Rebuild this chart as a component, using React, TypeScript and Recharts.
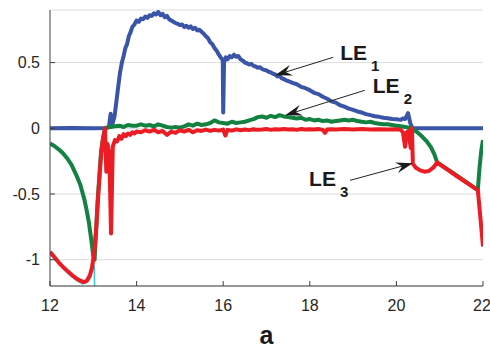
import { LineChart, Line, XAxis, YAxis, CartesianGrid, ReferenceLine } from 'recharts'

const xTicks = [12, 14, 16, 18, 20, 22]
const yTicks = [-1, -0.5, 0, 0.5]

// LE1 (blue)
const le1: [number, number][] = [
  [12, 0], [12.5, 0.002], [13, 0], [13.3, 0.002], [13.36, 0.01], [13.4, 0.11], [13.44, 0.03], [13.49, 0.09],
  [13.54, 0.22], [13.58, 0.33], [13.62, 0.43], [13.66, 0.5], [13.7, 0.55], [13.74, 0.61], [13.78, 0.64], [13.82, 0.7],
  [13.86, 0.73], [13.9, 0.77], [13.95, 0.79], [14.0, 0.82], [14.05, 0.81], [14.1, 0.835], [14.15, 0.83], [14.2, 0.85],
  [14.25, 0.84], [14.3, 0.86], [14.35, 0.855], [14.4, 0.875], [14.45, 0.865], [14.5, 0.885], [14.55, 0.86], [14.6, 0.87],
  [14.65, 0.845], [14.7, 0.855], [14.75, 0.83], [14.8, 0.82], [14.85, 0.81], [14.9, 0.8], [14.95, 0.795], [15.0, 0.785],
  [15.05, 0.79], [15.1, 0.77], [15.15, 0.78], [15.2, 0.765], [15.25, 0.775], [15.3, 0.755], [15.35, 0.765], [15.4, 0.745],
  [15.45, 0.75], [15.5, 0.735], [15.55, 0.72], [15.6, 0.7], [15.65, 0.685], [15.7, 0.655], [15.75, 0.64], [15.8, 0.61],
  [15.85, 0.59], [15.9, 0.56], [15.95, 0.535], [15.99, 0.52], [16.0, 0.12], [16.02, 0.5], [16.06, 0.54], [16.1, 0.525],
  [16.15, 0.55], [16.2, 0.54], [16.25, 0.56], [16.3, 0.545], [16.35, 0.55], [16.4, 0.525], [16.45, 0.515], [16.5, 0.5],
  [16.55, 0.495], [16.6, 0.485], [16.65, 0.49], [16.7, 0.475], [16.75, 0.47], [16.8, 0.46], [16.85, 0.465], [16.9, 0.45],
  [16.95, 0.445], [17.0, 0.44], [17.05, 0.43], [17.1, 0.425], [17.15, 0.415], [17.2, 0.41], [17.25, 0.395], [17.3, 0.4],
  [17.35, 0.38], [17.4, 0.375], [17.45, 0.365], [17.5, 0.36], [17.6, 0.345], [17.7, 0.335], [17.8, 0.315], [17.9, 0.305],
  [18.0, 0.29], [18.1, 0.27], [18.2, 0.26], [18.3, 0.24], [18.4, 0.225], [18.5, 0.205], [18.6, 0.195], [18.7, 0.175],
  [18.8, 0.165], [18.9, 0.15], [19.0, 0.14], [19.1, 0.128], [19.2, 0.12], [19.3, 0.108], [19.4, 0.1], [19.5, 0.092],
  [19.6, 0.087], [19.7, 0.08], [19.8, 0.076], [19.9, 0.07], [20.0, 0.068], [20.1, 0.064], [20.15, 0.075], [20.2, 0.07],
  [20.27, 0.115], [20.32, 0.04], [20.37, 0], [21, 0], [22, 0],
]

// LE2 (green)
const le2: [number, number][] = [
  [12, -0.115], [12.1, -0.135], [12.2, -0.16], [12.3, -0.19], [12.4, -0.23], [12.5, -0.28], [12.6, -0.35], [12.7, -0.43],
  [12.8, -0.55], [12.85, -0.63], [12.9, -0.72], [12.95, -0.84], [13.0, -0.97], [13.03, -1.0], [13.1, -0.55], [13.18, -0.17],
  [13.27, 0], [13.3, 0.005], [13.4, 0.01], [13.5, 0.015], [13.6, 0.02], [13.7, 0.01], [13.8, 0.025], [13.9, 0.02],
  [14.0, 0.02], [14.1, 0.03], [14.2, 0.02], [14.3, 0.025], [14.4, 0.015], [14.5, 0.03], [14.6, 0.02], [14.7, 0.01],
  [14.8, 0.005], [14.9, 0.01], [15.0, 0.005], [15.1, 0.015], [15.2, 0.03], [15.3, 0.02], [15.4, 0.035], [15.5, 0.025],
  [15.6, 0.03], [15.7, 0.04], [15.8, 0.06], [15.9, 0.045], [16.0, 0.04], [16.1, 0.035], [16.2, 0.05], [16.3, 0.04],
  [16.4, 0.045], [16.5, 0.05], [16.6, 0.06], [16.7, 0.07], [16.8, 0.085], [16.9, 0.09], [17.0, 0.08], [17.1, 0.095],
  [17.2, 0.085], [17.3, 0.1], [17.4, 0.09], [17.5, 0.085], [17.6, 0.08], [17.7, 0.075], [17.8, 0.08], [17.9, 0.065],
  [18.0, 0.07], [18.1, 0.06], [18.2, 0.065], [18.3, 0.055], [18.4, 0.06], [18.5, 0.05], [18.6, 0.055], [18.7, 0.06],
  [18.8, 0.065], [18.9, 0.06], [19.0, 0.065], [19.1, 0.055], [19.2, 0.05], [19.3, 0.045], [19.4, 0.05], [19.5, 0.04],
  [19.6, 0.035], [19.7, 0.03], [19.8, 0.03], [19.9, 0.025], [20.0, 0.02], [20.1, 0.015], [20.2, 0.01], [20.3, 0.005],
  [20.4, -0.01], [20.5, -0.035], [20.6, -0.065], [20.7, -0.1], [20.8, -0.145], [20.88, -0.2], [20.94, -0.26], [21.4, -0.36],
  [21.88, -0.47], [21.92, -0.3], [21.96, -0.17], [22, -0.09],
]

// LE3 (red)
const le3: [number, number][] = [
  [12, -0.94], [12.1, -0.98], [12.2, -1.02], [12.3, -1.055], [12.4, -1.085], [12.5, -1.115], [12.6, -1.14], [12.7, -1.16],
  [12.78, -1.17], [12.85, -1.16], [12.92, -1.12], [12.97, -1.06], [13.02, -0.95], [13.07, -0.75], [13.12, -0.48], [13.17, -0.25],
  [13.22, -0.08], [13.27, 0], [13.3, -0.33], [13.33, -0.12], [13.37, -0.2], [13.41, -0.8], [13.45, -0.14], [13.5, -0.09],
  [13.55, -0.1], [13.6, -0.06], [13.65, -0.08], [13.7, -0.045], [13.75, -0.06], [13.8, -0.04], [13.85, -0.05], [13.9, -0.03],
  [13.95, -0.04], [14.0, -0.025], [14.1, -0.03], [14.2, -0.015], [14.3, -0.025], [14.4, -0.012], [14.5, -0.03], [14.6, -0.02],
  [14.7, -0.05], [14.8, -0.025], [14.9, -0.035], [15.0, -0.015], [15.1, -0.025], [15.2, -0.012], [15.3, -0.03], [15.4, -0.015],
  [15.5, -0.02], [15.6, -0.01], [15.7, -0.02], [15.8, -0.012], [15.9, -0.018], [16.0, -0.01], [16.05, -0.055], [16.1, -0.012],
  [16.2, -0.018], [16.3, -0.008], [16.4, -0.015], [16.5, -0.01], [16.6, -0.014], [16.7, -0.008], [16.8, -0.012], [16.9, -0.01],
  [17.0, -0.006], [17.1, -0.012], [17.2, -0.008], [17.3, -0.01], [17.4, -0.006], [17.5, -0.01], [17.6, -0.008], [17.7, -0.012],
  [17.8, -0.006], [17.9, -0.01], [18.0, -0.008], [18.1, -0.01], [18.2, -0.006], [18.3, -0.012], [18.35, -0.035], [18.4, -0.01],
  [18.5, -0.008], [18.6, -0.01], [18.8, -0.006], [19.0, -0.01], [19.2, -0.006], [19.4, -0.01], [19.6, -0.008], [19.8, -0.01],
  [20.0, -0.008], [20.1, -0.012], [20.15, -0.03], [20.2, -0.14], [20.24, -0.03], [20.28, -0.02], [20.33, -0.15], [20.36, 0],
  [20.38, -0.27], [20.45, -0.3], [20.55, -0.32], [20.65, -0.33], [20.75, -0.325], [20.85, -0.3], [20.94, -0.26], [21.4, -0.365],
  [21.88, -0.47], [21.94, -0.68], [22, -0.9],
]

// thin cyan trace under LE3
const le4: [number, number][] = [
  [12, -0.955], [12.2, -1.035], [12.4, -1.1], [12.6, -1.155], [12.75, -1.185], [12.85, -1.175], [12.93, -1.14],
  [12.98, -1.08], [13.02, -1.04], [13.03, -1.2],
]

// annotation arrows: [label start x, y, arrow tip x, y]
const arrowLE1 = [18.54, 0.54, 17.2, 0.403]
const arrowLE2 = [19.27, 0.289, 17.43, 0.099]
const arrowLE3 = [18.93, -0.396, 20.38, -0.266]

const toPoints = (d: [number, number][]) => d.map(([x, y]) => ({ x, y }))

const font = '"Liberation Sans", Arial, Helvetica, sans-serif'
const axisColor = '#404040'

function arrowShape(p: any, sub: string, tdx: number, tdy: number) {
  const { x1, y1, x2, y2 } = p
  const len = Math.hypot(x1 - x2, y1 - y2)
  const ux = (x1 - x2) / len
  const uy = (y1 - y2) / len
  const nx = -uy
  const ny = ux
  const L = 17
  const W = 5.5
  const pts = [
    [x2, y2],
    [x2 + ux * L + nx * W, y2 + uy * L + ny * W],
    [x2 + ux * L * 0.65, y2 + uy * L * 0.65],
    [x2 + ux * L - nx * W, y2 + uy * L - ny * W],
  ]
  return (
    <g>
      <line x1={x1} y1={y1} x2={x2 + ux * L * 0.65} y2={y2 + uy * L * 0.65} stroke="#222" strokeWidth={1} />
      <polygon points={pts.map((q) => q.join(',')).join(' ')} fill="#1a1a1a" />
      <text x={x1 + tdx} y={y1 + tdy} fontFamily={font} fontWeight="bold" fontSize={21} fill="#1a1a1a">
        LE
        <tspan dx={4} dy={11} fontSize={15}>{sub}</tspan>
      </text>
    </g>
  )
}

export default function App() {
  return (
    <div style={{ position: 'absolute', left: 0, top: 0, background: '#fff' }}>
      <LineChart width={490} height={348} margin={{ top: 10, right: 7, bottom: 0, left: 0 }}>
        <CartesianGrid vertical={false} stroke="#dcdcdc" strokeWidth={1} />
        <XAxis
          dataKey="x"
          type="number"
          domain={[12, 22]}
          ticks={xTicks}
          allowDataOverflow
          height={62}
          tickSize={-5}
          tickMargin={19}
          stroke={axisColor}
          tick={{ fill: '#262626', fontSize: 16, fontFamily: font }}
          label={{ value: 'a', position: 'insideBottom', offset: 4, style: { fontSize: 25, fontWeight: 'bold', fill: '#1a1a1a', fontFamily: font } }}
        />
        <XAxis
          xAxisId="top"
          orientation="top"
          type="number"
          domain={[12, 22]}
          ticks={xTicks}
          allowDataOverflow
          height={0}
          tickSize={-5}
          tickFormatter={() => ''}
          stroke={axisColor}
        />
        <YAxis
          type="number"
          domain={[-1.2, 0.9]}
          ticks={yTicks}
          allowDataOverflow
          width={50}
          tickSize={-5}
          tickMargin={15}
          stroke={axisColor}
          tick={{ fill: '#262626', fontSize: 16, fontFamily: font }}
        />
        <YAxis
          yAxisId="right"
          orientation="right"
          type="number"
          domain={[-1.2, 0.9]}
          ticks={yTicks}
          allowDataOverflow
          width={0}
          tickSize={-5}
          tickFormatter={() => ''}
          stroke={axisColor}
        />
        <Line data={toPoints(le4)} dataKey="y" stroke="#3ec6cc" strokeWidth={1.5} dot={false} isAnimationActive={false} />
        <Line data={toPoints(le1)} dataKey="y" stroke="#3a55a8" strokeWidth={4} dot={false} strokeLinejoin="round" isAnimationActive={false} />
        <Line data={toPoints(le2)} dataKey="y" stroke="#13813f" strokeWidth={4} dot={false} strokeLinejoin="round" isAnimationActive={false} />
        <Line data={toPoints(le3)} dataKey="y" stroke="#ec1c24" strokeWidth={4} dot={false} strokeLinejoin="round" isAnimationActive={false} />
        <ReferenceLine
          segment={[{ x: arrowLE1[0], y: arrowLE1[1] }, { x: arrowLE1[2], y: arrowLE1[3] }]}
          shape={(p: any) => arrowShape(p, '1', 7, 3)}
        />
        <ReferenceLine
          segment={[{ x: arrowLE2[0], y: arrowLE2[1] }, { x: arrowLE2[2], y: arrowLE2[3] }]}
          shape={(p: any) => arrowShape(p, '2', 8, 3)}
        />
        <ReferenceLine
          segment={[{ x: arrowLE3[0], y: arrowLE3[1] }, { x: arrowLE3[2], y: arrowLE3[3] }]}
          shape={(p: any) => arrowShape(p, '3', -41, 6)}
        />
      </LineChart>
    </div>
  )
}
